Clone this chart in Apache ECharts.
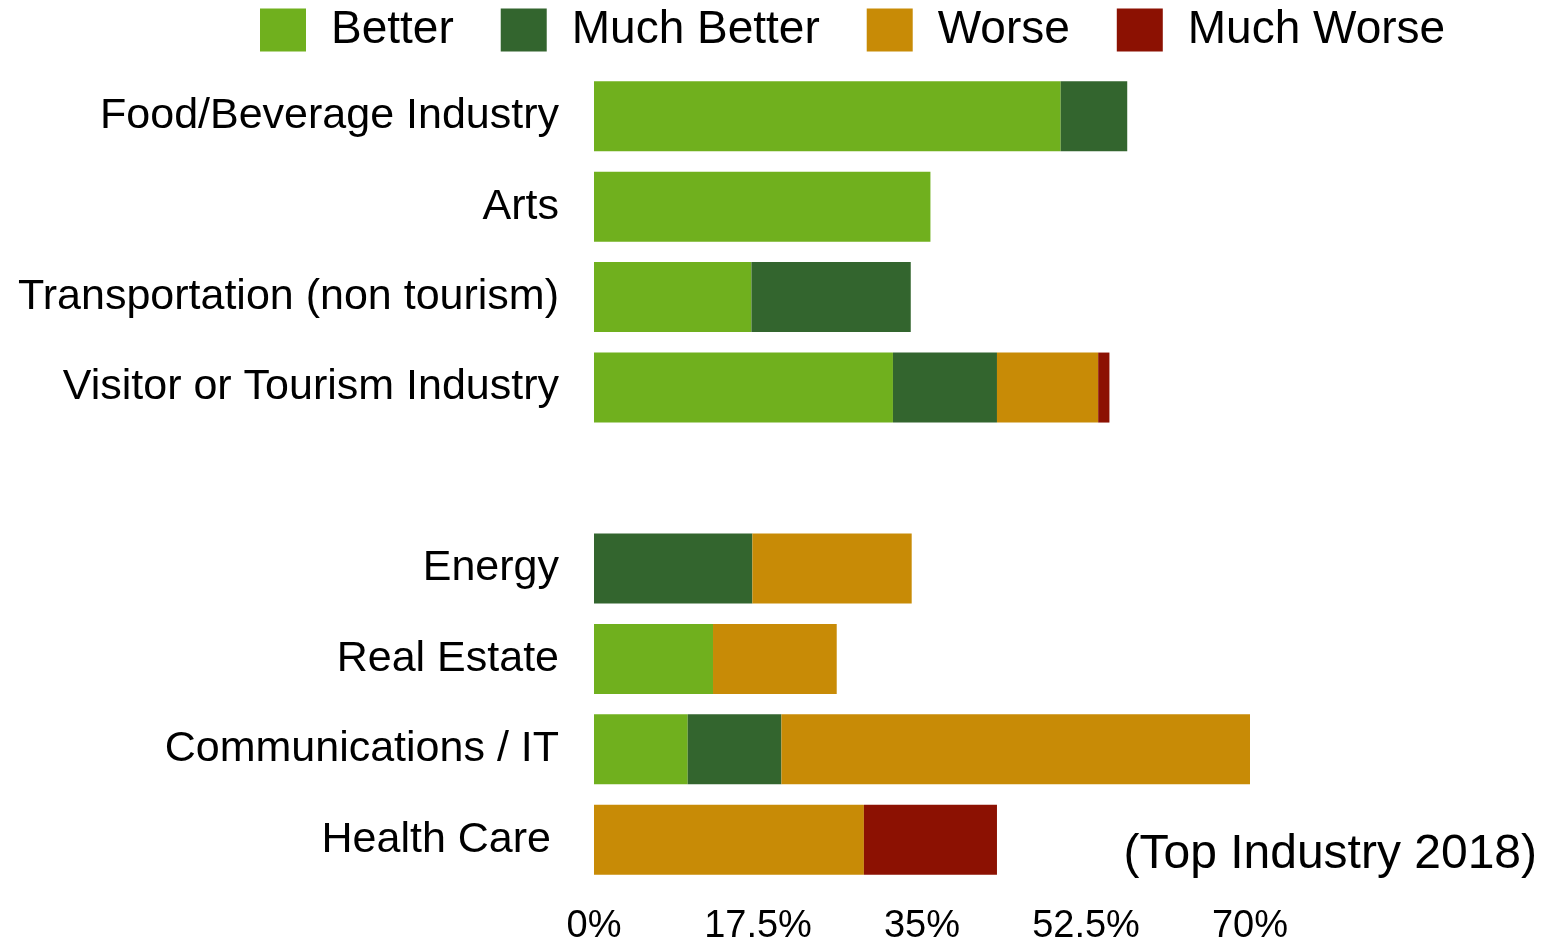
<!DOCTYPE html>
<html>
<head>
<meta charset="utf-8">
<script src="https://cdn.jsdelivr.net/npm/echarts@6/dist/echarts.min.js"></script>
<style>
html, body { margin: 0; padding: 0; background: #fff; }
#main { width: 1544px; height: 946px; }
</style>
</head>
<body>
<div id="main"></div>
<script>
// categories, top to bottom ('' is the spacer row)
var categories = ['Food/Beverage Industry', 'Arts', 'Transportation (non tourism)', 'Visitor or Tourism Industry',
	'', 'Energy', 'Real Estate', 'Communications / IT', 'Health Care'];
var better = [49.8, 35.9, 16.8, 31.9, '-', '-', 12.7, 10, '-'];
var muchBetter = [7.1, '-', 17, 11.1, '-', 16.9, '-', 10, '-'];
var worse = ['-', '-', '-', 10.8, '-', 17, 13.2, 50, 28.8];
var muchWorse = ['-', '-', '-', 1.2, '-', '-', '-', '-', 14.2];
var xTicks = [0, 17.5, 35, 52.5, 70];

var font = '"Liberation Sans", Arial, Helvetica, sans-serif';

var myChart = echarts.init(document.getElementById('main'));

function bar(name, data, color) {
	return {
		name : name,
		type : 'bar',
		stack : 'total',
		barWidth : 70,
		data : data,
		itemStyle : { color : color },
		emphasis : { disabled : true }
	};
}

var yData = categories.map(function(c) {
	if (c === 'Health Care') {
		// this label sits a little further left in the original
		return { value : c, textStyle : { padding : [0, 8, 0, 0] } };
	}
	return c;
});

var option = {
	animation : false,
	textStyle : { fontFamily : font },
	legend : {
		left : 260,
		top : 7,
		padding : 0,
		itemWidth : 46,
		itemHeight : 43,
		itemGap : 47,
		icon : 'rect',
		textStyle : {
			fontFamily : font,
			fontSize : 46,
			color : '#000',
			padding : [0, 0, 0, 20]
		},
		data : ['Better', 'Much Better', 'Worse', 'Much Worse']
	},
	grid : {
		left : 594,
		top : 71,
		width : 656,
		height : 826,
		containLabel : false
	},
	xAxis : {
		type : 'value',
		min : xTicks[0],
		max : xTicks[xTicks.length - 1],
		interval : 17.5,
		axisLine : { show : false },
		axisTick : { show : false },
		splitLine : { show : false },
		axisLabel : {
			margin : 23,
			fontFamily : font,
			fontSize : 38,
			color : '#000',
			formatter : function(v) {
				return v + '%';
			}
		}
	},
	yAxis : {
		type : 'category',
		inverse : true,
		data : yData,
		axisLine : { show : false },
		axisTick : { show : false },
		splitLine : { show : false },
		axisLabel : {
			margin : 35,
			fontFamily : font,
			fontSize : 43,
			color : '#000'
		}
	},
	graphic : [ {
		type : 'text',
		right : 7,
		top : 831,
		style : {
			text : '(Top Industry 2018)',
			font : '48px ' + font,
			fill : '#000'
		}
	} ],
	series : [
		bar('Better', better, '#70b01e'),
		bar('Much Better', muchBetter, '#33652e'),
		bar('Worse', worse, '#c88b06'),
		bar('Much Worse', muchWorse, '#8c1102')
	]
};
myChart.setOption(option);
</script>
</body>
</html>
